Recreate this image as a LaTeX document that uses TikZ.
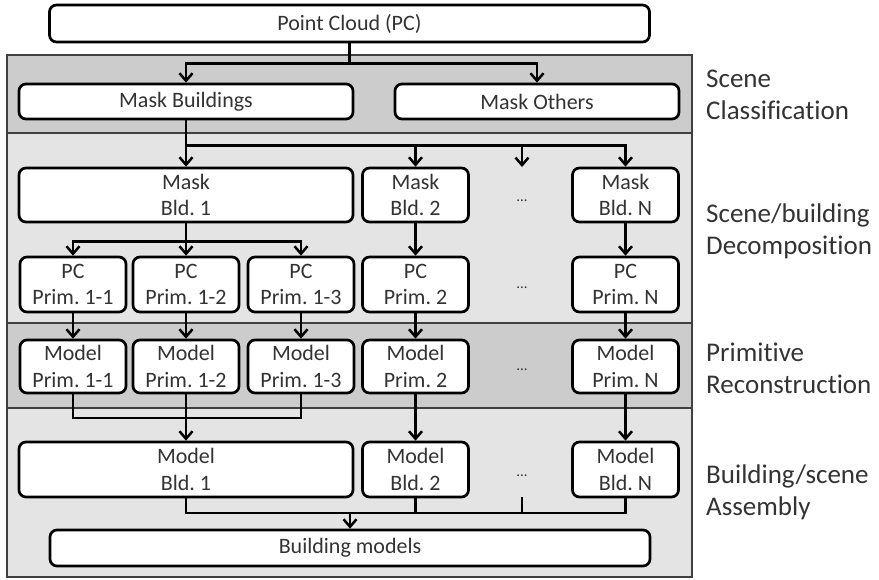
\documentclass[tikz,border=0pt]{standalone}
\usepackage{fontspec}
\setmainfont[Ligatures=NoCommon]{Carlito}
\frenchspacing
\usetikzlibrary{arrows.meta}
\definecolor{bandDark}{gray}{0.80}
\definecolor{bandLight}{gray}{0.895}
\definecolor{bandEdge}{gray}{0.25}
\definecolor{txt}{gray}{0.20}
\begin{document}
\begin{tikzpicture}[x=1pt,y=-1pt,
  box/.style={draw=black, line width=2.7pt, fill=white, rounded corners=7pt,
    text=txt, font=\fontsize{22}{26.5}\selectfont, align=center, inner sep=0pt},
  wide/.style={box, minimum width=334, minimum height=54},
  small/.style={box, minimum width=106},
  banner/.style={box, minimum width=600, minimum height=37},
  line/.style={draw=black, line width=2.7pt},
  arr/.style={line, -{Straight Barb[length=7.5pt,width=13pt,line width=2.5pt]}},
  dots/.style={text=txt, font=\fontsize{15}{15}\selectfont, inner sep=0pt},
  stage/.style={text=txt, font=\fontsize{27}{32}\selectfont, align=left,
    inner sep=0pt, anchor=west},
  band/.style={draw=bandEdge, line width=1.8pt}]
\useasboundingbox (0,0) rectangle (879,579);

% stage bands
\path[band, fill=bandDark]  (7,55)  rectangle (692,133);
\path[band, fill=bandLight] (7,133) rectangle (692,323);
\path[band, fill=bandDark]  (7,323) rectangle (692,408);
\path[band, fill=bandLight] (7,408) rectangle (692,577);

% input
\node[banner] (pc) at (349.5,23.5) {Point Cloud (PC)};

% scene classification
\node[box, minimum width=334, minimum height=35] (mb) at (186,101.5) {Mask Buildings};
\node[box, minimum width=284, minimum height=35] (mo) at (537,101.5) {Mask Others};

% building masks
\node[wide] (m1) at (186,195) {Mask\\Bld. 1};
\node[small, minimum height=54] (m2) at (415.5,195) {Mask\\Bld. 2};
\node[small, minimum height=54] (mN) at (625.5,195) {Mask\\Bld. N};
\node[dots] (dm) at (522,201) {...};

% primitive point clouds
\node[small, minimum height=55] (p11) at (73,284.5)   {PC\\Prim. 1-1};
\node[small, minimum height=55] (p12) at (186,284.5)  {PC\\Prim. 1-2};
\node[small, minimum height=55] (p13) at (301,284.5)  {PC\\Prim. 1-3};
\node[small, minimum height=55] (p2)  at (415.5,284.5) {PC\\Prim. 2};
\node[small, minimum height=55] (pN)  at (625.5,284.5) {PC\\Prim. N};
\node[dots] (dp) at (522,288) {...};

% primitive models
\node[small, minimum height=53] (q11) at (73,366.5)   {Model\\Prim. 1-1};
\node[small, minimum height=53] (q12) at (186,366.5)  {Model\\Prim. 1-2};
\node[small, minimum height=53] (q13) at (301,366.5)  {Model\\Prim. 1-3};
\node[small, minimum height=53] (q2)  at (415.5,366.5) {Model\\Prim. 2};
\node[small, minimum height=53] (qN)  at (625.5,366.5) {Model\\Prim. N};
\node[dots] (dq) at (522,370) {...};

% building models
\node[wide, minimum height=55] (b1) at (186,469.5) {Model\\Bld. 1};
\node[small, minimum height=55] (b2) at (415.5,469.5) {Model\\Bld. 2};
\node[small, minimum height=55] (bN) at (625.5,469.5) {Model\\Bld. N};
\node[dots] (db) at (522,476) {...};

% output
\node[banner, minimum height=36] (bm) at (350,548) {Building models};

% stage labels
\node[stage] (l1) at (706,94.5)  {Scene\\Classification};
\node[stage] (l2) at (706,231.5) {Scene/building\\Decomposition};
\node[stage] (l3) at (706,368)   {Primitive\\Reconstruction};
\node[stage] (l4) at (706,492.5) {Building/scene\\Assembly};

% free ends in the "..." column
\coordinate (dIn)  at (522,167);
\coordinate (dOut) at (522,497);

% point cloud -> classes
\draw[line] (pc.south) -- ++(0,20) coordinate (j1);
\draw[arr] (j1) -| (mb.north);
\draw[arr] (j1) -| (mo.north);

% buildings -> individual building masks
\draw[line] (mb.south) -- ++(0,25) coordinate (j2);
\draw[arr] (j2) -- (m1.north);
\draw[arr] (j2) -| (m2.north);
\draw[arr] (j2) -| (dIn);
\draw[arr] (j2) -| (mN.north);

% building masks -> primitive point clouds
\draw[line] (m1.south) -- ++(0,18) coordinate (j3);
\draw[arr] (j3) -| (p11.north);
\draw[arr] (j3) -- (p12.north);
\draw[arr] (j3) -| (p13.north);
\draw[arr] (m2) -- (p2);
\draw[arr] (mN) -- (pN);

% primitive point clouds -> primitive models
\draw[arr] (p11) -- (q11);
\draw[arr] (p12) -- (q12);
\draw[arr] (p13) -- (q13);
\draw[arr] (p2) -- (q2);
\draw[arr] (pN) -- (qN);

% primitive models -> building models
\coordinate (j4) at (186,418);
\draw[line] (q11.south) |- (j4) -| (q13.south);
\draw[arr] (q12) -- (b1);
\draw[arr] (q2) -- (b2);
\draw[arr] (qN) -- (bN);

% building models -> assembled scene
\coordinate (j5) at (350,513);
\draw[line] (b1.south) |- (j5) -| (bN.south);
\draw[line] (b2.south) -- (b2.south |- j5);
\draw[line] (dOut) -- (dOut |- j5);
\draw[arr] (j5) -- (bm.north);
\end{tikzpicture}
\end{document}
